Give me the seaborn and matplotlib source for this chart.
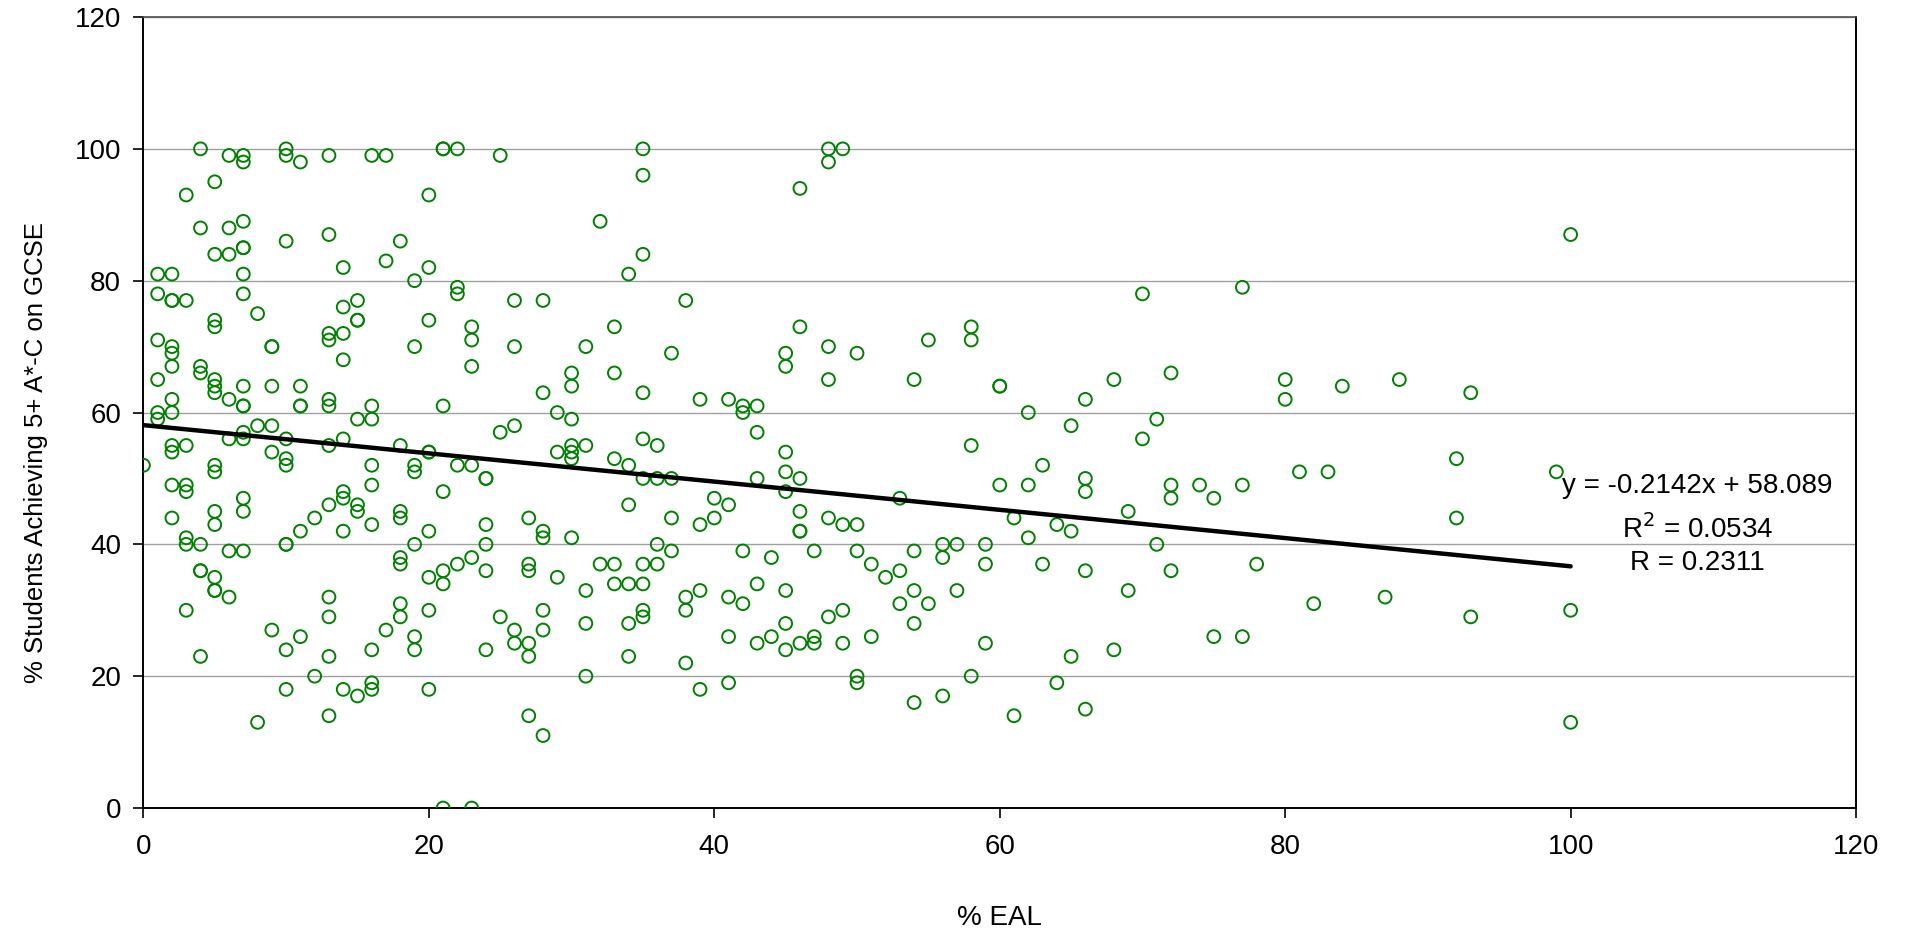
import matplotlib
matplotlib.use("Agg")
import matplotlib.pyplot as plt
import seaborn as sns
import numpy as np
import pandas as pd

# % of pupils with English as an additional language, one entry per school
eal_pct = [
    0,
    1, 1, 1, 1, 1, 1,
    2, 2, 2, 2, 2, 2, 2, 2, 2, 2, 2, 2,
    3, 3, 3, 3, 3, 3, 3, 3,
    4, 4, 4, 4, 4, 4, 4, 4,
    5, 5, 5, 5, 5, 5, 5, 5, 5, 5, 5, 5, 5, 5,
    6, 6, 6, 6, 6, 6, 6,
    7, 7, 7, 7, 7, 7, 7, 7, 7, 7, 7, 7, 7, 7, 7,
    8, 8, 8,
    9, 9, 9, 9, 9, 9,
    10, 10, 10, 10, 10, 10, 10, 10, 10, 10,
    11, 11, 11, 11, 11, 11,
    12, 12,
    13, 13, 13, 13, 13, 13, 13, 13, 13, 13, 13, 13,
    14, 14, 14, 14, 14, 14, 14, 14, 14,
    15, 15, 15, 15, 15, 15, 15,
    16, 16, 16, 16, 16, 16, 16, 16, 16,
    17, 17, 17,
    18, 18, 18, 18, 18, 18, 18, 18,
    19, 19, 19, 19, 19, 19, 19,
    20, 20, 20, 20, 20, 20, 20, 20, 20,
    21, 21, 21, 21, 21, 21, 21,
    22, 22, 22, 22, 22,
    23, 23, 23, 23, 23, 23,
    24, 24, 24, 24, 24, 24,
    25, 25, 25,
    26, 26, 26, 26, 26,
    27, 27, 27, 27, 27, 27,
    28, 28, 28, 28, 28, 28, 28,
    29, 29, 29,
    30, 30, 30, 30, 30, 30, 30,
    31, 31, 31, 31, 31,
    32, 32,
    33, 33, 33, 33, 33,
    34, 34, 34, 34, 34, 34,
    35, 35, 35, 35, 35, 35, 35, 35, 35, 35,
    36, 36, 36, 36,
    37, 37, 37, 37,
    38, 38, 38, 38,
    39, 39, 39, 39,
    40, 40,
    41, 41, 41, 41, 41,
    42, 42, 42, 42,
    43, 43, 43, 43, 43,
    44, 44,
    45, 45, 45, 45, 45, 45, 45, 45,
    46, 46, 46, 46, 46, 46, 46,
    47, 47, 47,
    48, 48, 48, 48, 48, 48,
    49, 49, 49, 49,
    50, 50, 50, 50, 50,
    51, 51,
    52,
    53, 53, 53,
    54, 54, 54, 54, 54,
    55, 55,
    56, 56, 56,
    57, 57,
    58, 58, 58, 58,
    59, 59, 59,
    60, 60, 60,
    61, 61,
    62, 62, 62,
    63, 63,
    64, 64,
    65, 65, 65,
    66, 66, 66, 66, 66,
    68, 68,
    69, 69,
    70, 70,
    71, 71,
    72, 72, 72, 72,
    74,
    75, 75,
    77, 77, 77,
    78,
    80, 80,
    81,
    82,
    83,
    84,
    87,
    88,
    92, 92,
    93, 93,
    99,
    100, 100, 100,
]

# % of students achieving 5+ A*-C grades at GCSE, same order as above
gcse_pct = [
    52,
    81, 78, 71, 65, 60, 59,
    81, 77, 77, 70, 69, 67, 62, 60, 55, 54, 49, 44,
    93, 77, 55, 49, 48, 41, 40, 30,
    100, 88, 67, 66, 40, 36, 36, 23,
    95, 84, 74, 73, 65, 64, 63, 52, 51, 45, 43, 35, 33, 33,
    99, 88, 84, 62, 56, 39, 32,
    99, 98, 89, 85, 85, 81, 78, 64, 61, 61, 57, 56, 47, 45, 39,
    75, 58, 13,
    70, 70, 64, 58, 54, 27,
    100, 99, 86, 56, 53, 52, 40, 40, 24, 18,
    98, 64, 61, 61, 42, 26,
    44, 20,
    99, 87, 72, 71, 62, 61, 55, 46, 32, 29, 23, 14,
    82, 76, 72, 68, 56, 48, 47, 42, 18,
    77, 74, 74, 59, 46, 45, 17,
    99, 61, 59, 52, 49, 43, 24, 19, 18,
    99, 83, 27,
    86, 55, 45, 44, 38, 37, 31, 29,
    80, 70, 52, 51, 40, 26, 24,
    93, 82, 74, 54, 54, 42, 35, 30, 18,
    100, 100, 61, 48, 36, 34, 0,
    100, 79, 78, 52, 37,
    73, 71, 67, 52, 38, 0,
    50, 50, 43, 40, 36, 24,
    99, 57, 29,
    77, 70, 58, 27, 25,
    44, 37, 36, 25, 23, 14,
    77, 63, 42, 41, 30, 27, 11,
    60, 54, 35,
    66, 64, 59, 55, 54, 53, 41,
    70, 55, 33, 28, 20,
    89, 37,
    73, 66, 53, 37, 34,
    81, 52, 46, 34, 28, 23,
    100, 96, 84, 63, 56, 50, 37, 34, 30, 29,
    55, 50, 40, 37,
    69, 50, 44, 39,
    77, 32, 30, 22,
    62, 43, 33, 18,
    47, 44,
    62, 46, 32, 26, 19,
    61, 60, 39, 31,
    61, 57, 50, 34, 25,
    38, 26,
    69, 67, 54, 51, 48, 33, 28, 24,
    94, 73, 50, 45, 42, 42, 25,
    39, 26, 25,
    100, 98, 70, 65, 44, 29,
    100, 43, 30, 25,
    69, 43, 39, 20, 19,
    37, 26,
    35,
    47, 36, 31,
    65, 39, 33, 28, 16,
    71, 31,
    40, 38, 17,
    40, 33,
    73, 71, 55, 20,
    40, 37, 25,
    64, 64, 49,
    44, 14,
    60, 49, 41,
    52, 37,
    43, 19,
    58, 42, 23,
    62, 50, 48, 36, 15,
    65, 24,
    45, 33,
    78, 56,
    59, 40,
    66, 49, 47, 36,
    49,
    47, 26,
    79, 49, 26,
    37,
    65, 62,
    51,
    31,
    51,
    64,
    32,
    65,
    53, 44,
    63, 29,
    51,
    87, 30, 13,
]

# Linear trend line reported on the chart
slope = -0.2142
intercept = 58.089
r_squared = 0.0534
r_value = 0.2311
trend_x = [0, 100]

x_ticks = [0, 20, 40, 60, 80, 100, 120]
y_ticks = [0, 20, 40, 60, 80, 100, 120]

df = pd.DataFrame({"eal": eal_pct, "gcse": gcse_pct})
trend = pd.DataFrame({"eal": trend_x,
                      "gcse": [slope * v + intercept for v in trend_x]})

sns.set_theme(style="white")
plt.rcParams["font.family"] = ["Liberation Sans", "DejaVu Sans"]

fig = plt.figure(figsize=(19.07, 9.35), dpi=100)
ax = fig.add_axes([0.0752, 0.1358, 0.8981, 0.846])

green = "#008000"
sns.scatterplot(data=df, x="eal", y="gcse", ax=ax, marker="o", s=85,
                facecolors="none", edgecolor=green, linewidth=1.4, zorder=3)
sns.lineplot(data=trend, x="eal", y="gcse", ax=ax, color="black",
             linewidth=3.2, zorder=4)

ax.set_xlim(0, 120)
ax.set_ylim(0, 120)
ax.set_xticks(x_ticks)
ax.set_yticks(y_ticks)
ax.yaxis.grid(True, color="#a0a0a0", linewidth=1.0)
ax.xaxis.grid(False)
ax.set_axisbelow(True)

for side in ["left", "bottom", "right"]:
    ax.spines[side].set_color("black")
    ax.spines[side].set_linewidth(1.4)
ax.spines["top"].set_color("#505050")
ax.spines["top"].set_linewidth(1.2)

ax.tick_params(axis="both", which="major", direction="out", length=7,
               width=1.2, color="black", labelsize=20, labelcolor="black",
               bottom=True, left=True)
ax.tick_params(axis="x", pad=12)
ax.tick_params(axis="y", pad=9)

ax.set_xlabel("% EAL", fontsize=20, color="black", va="center")
ax.set_ylabel("% Students Achieving 5+ A*-C on GCSE", fontsize=18.5,
              color="black", va="center")
ax.xaxis.set_label_coords(0.5, -0.139)
ax.yaxis.set_label_coords(-0.063, 0.45)

label_x = 108.9
ax.text(label_x, 48.8, f"y = {slope}x + {intercept}", ha="center",
        va="center", fontsize=20, color="black")
ax.text(label_x, 42.3, f"R$^2$ = {r_squared}", ha="center", va="center",
        fontsize=20, color="black")
ax.text(label_x, 37.2, f"R = {r_value}", ha="center", va="center",
        fontsize=20, color="black")

fig.savefig("out.png", dpi=100)
